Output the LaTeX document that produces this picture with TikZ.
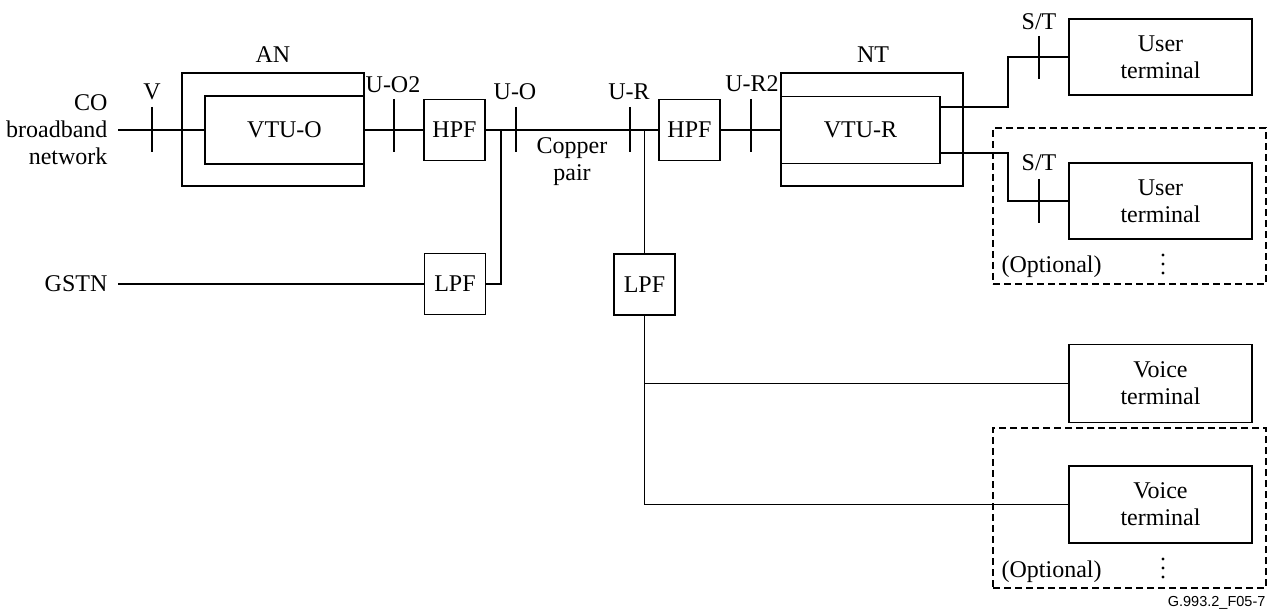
\documentclass[tikz,border=0pt]{standalone}
\usepackage{fontspec}
\setmainfont{Liberation Serif}
\newfontfamily\figidfont{Liberation Sans}
\begin{document}
\begin{tikzpicture}[x=1pt,y=-1pt,line width=1.2pt,
  every node/.style={font=\fontsize{24}{27}\selectfont},
  box/.style={draw,rectangle,inner sep=0pt,align=center},
  lbl/.style={inner sep=0pt,align=center},
  optbox/.style={draw,dash pattern=on 7pt off 4pt,line width=1.1pt}]
\useasboundingbox (0,0) rectangle (1270,612);
% left text
\node[lbl,align=right,anchor=east] (co) at (108,130) {CO\\broadband\\network};
\node[lbl,anchor=east] (gstn) at (108,284) {GSTN};
% AN
\node[box,minimum width=182pt,minimum height=113pt] (an) at (273,129.5) {};
\node[lbl] (anl) at (273,55) {AN};
\node[box,minimum width=159pt,minimum height=68pt] (vtuo) at (284.5,130) {VTU-O};
% HPF / LPF
\node[box,minimum width=61pt,minimum height=61pt] (hpf1) at (454.5,130) {HPF};
\node[box,minimum width=61pt,minimum height=61pt] (lpf1) at (455,284) {LPF};
\node[box,minimum width=61pt,minimum height=61pt] (hpf2) at (689.5,130) {HPF};
\node[box,minimum width=61pt,minimum height=61pt] (lpf2) at (644.5,284.5) {LPF};
% NT
\node[box,minimum width=182pt,minimum height=113pt] (nt) at (872,129.5) {};
\node[lbl] (ntl) at (873,55) {NT};
\node[box,minimum width=159pt,minimum height=67pt] (vtur) at (860.5,130) {VTU-R};
% terminals
\node[box,minimum width=183pt,minimum height=76pt] (ut1) at (1160.5,57) {User\\terminal};
\node[box,minimum width=183pt,minimum height=76pt] (ut2) at (1160.5,201) {User\\terminal};
\node[box,minimum width=183pt,minimum height=78pt] (vt1) at (1160.5,383.5) {Voice\\terminal};
\node[box,minimum width=183pt,minimum height=77pt] (vt2) at (1160.5,504.5) {Voice\\terminal};
% optional boxes
\node[optbox,inner sep=0pt,minimum width=273pt,minimum height=156pt] (opt1) at (1129.5,206) {};
\node[optbox,inner sep=0pt,minimum width=273pt,minimum height=160pt] (opt2) at (1129.5,508) {};
\node[lbl,anchor=west] (o1) at (1001,267) {(Optional)};
\node[lbl,anchor=west] (o2) at (1001,572) {(Optional)};
\foreach \d in {0,9,18} {
  \fill (1163,255+\d) circle[radius=1.7pt];
  \fill (1163,559+\d) circle[radius=1.7pt];
}
% coordinates
\coordinate (cos) at (118,130);
\coordinate (j1) at (501,130);
\coordinate (j2) at (lpf2.north |- hpf2.west);
\coordinate (up1) at (1008,107);
\coordinate (dn1) at (1008,153);
\coordinate (vj1) at (lpf2.south |- vt1.west);
\coordinate (vj2) at (lpf2.south |- vt2.west);
\coordinate (gs) at (118,284);
% connectors
\draw (cos) -- (vtuo.west);
\draw (vtuo.east) -- (hpf1.west);
\draw (hpf1.east) -- (hpf2.west);
\draw (hpf2.east) -- (vtur.west);
\draw (j1) |- (lpf1.east);
\draw (gs) -- (lpf1.west);
\draw (j2) -- (lpf2.north);
\draw (lpf2.south) -- (vj2);
\draw (vj1) -- (vt1.west);
\draw (vj2) -- (vt2.west);
\draw (vtur.east |- up1) -- (up1) |- (ut1.west);
\draw (vtur.east |- dn1) -- (dn1) |- (ut2.west);
% ticks and labels
\draw (152,107) -- (152,152);  \node[lbl] (lv) at (152,92) {V};
\draw (394,99) -- (394,152);   \node[lbl] (luo2) at (393,85) {U-O2};
\draw (516,107) -- (516,152);  \node[lbl] (luo) at (515,92) {U-O};
\draw (630,107) -- (630,152);  \node[lbl] (lur) at (629,92) {U-R};
\draw (751,99) -- (751,152);   \node[lbl] (lur2) at (752,84) {U-R2};
\draw (1039,36) -- (1039,79);  \node[lbl] (st1) at (1039,22) {S/T};
\draw (1039,179) -- (1039,223);\node[lbl] (st2) at (1039,163) {S/T};
\node[lbl] (cp) at (572,162) {Copper\\pair};
\node[lbl,anchor=east,font=\figidfont\fontsize{14.5}{16}\selectfont] (fid) at (1266,603) {G.993.2\_F05-7};
\end{tikzpicture}
\end{document}
